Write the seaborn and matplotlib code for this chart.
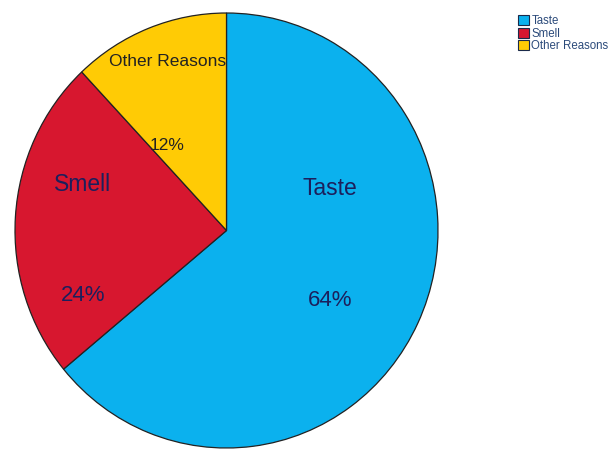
import matplotlib
matplotlib.use("Agg")
import matplotlib.pyplot as plt
import seaborn as sns
from matplotlib.patches import Patch

sns.set_theme(style="white")
plt.rcParams['font.family'] = ['Liberation Sans', 'DejaVu Sans']

categories = ["Taste", "Smell", "Other Reasons"]
shares = [64, 24, 12]
pct_labels = ["64%", "24%", "12%"]
colors = ["#0bb1ee", "#d7172f", "#ffcb05"]

fig = plt.figure(figsize=(6.15, 4.5), dpi=100)
# the pie is drawn slightly taller than wide
ax = fig.add_axes([15 / 615, 2 / 450, 423 / 615, 435 / 450])
wedges, _ = ax.pie(shares, colors=colors, startangle=90, counterclock=False,
                   wedgeprops=dict(edgecolor="#222222", linewidth=0.9))
ax.set_aspect("auto")
ax.set_xlim(-1.0, 1.0)
ax.set_ylim(-1.0, 1.0)
ax.axis("off")

name_pos = [(0.49, 0.195), (-0.68, 0.21), (-0.28, 0.775)]
pct_pos = [(0.49, -0.32), (-0.68, -0.30), (-0.28, 0.39)]
name_colors = ["#1c1f5c", "#1c1f5c", "#222222"]
name_sizes = [16.5, 16.5, 12.5]
pct_sizes = [16, 16, 12.5]
for name, pct, npos, ppos, col, ns, ps in zip(categories, pct_labels, name_pos,
                                             pct_pos, name_colors, name_sizes, pct_sizes):
    ax.text(*npos, name, ha="center", va="center", fontsize=ns, color=col)
    ax.text(*ppos, pct, ha="center", va="center", fontsize=ps, color=col)

handles = [Patch(facecolor=c, edgecolor="#1a2a4a", linewidth=0.8) for c in colors]
fig.legend(handles, categories, loc="upper left", bbox_to_anchor=(510 / 615, 1 - 7 / 450),
           frameon=False, fontsize=8.3, handlelength=0.95, handleheight=0.95,
           handletextpad=0.2, labelspacing=0.05, borderpad=0.2,
           labelcolor="#2b4a7a")

fig.savefig("out.png", dpi=100)
